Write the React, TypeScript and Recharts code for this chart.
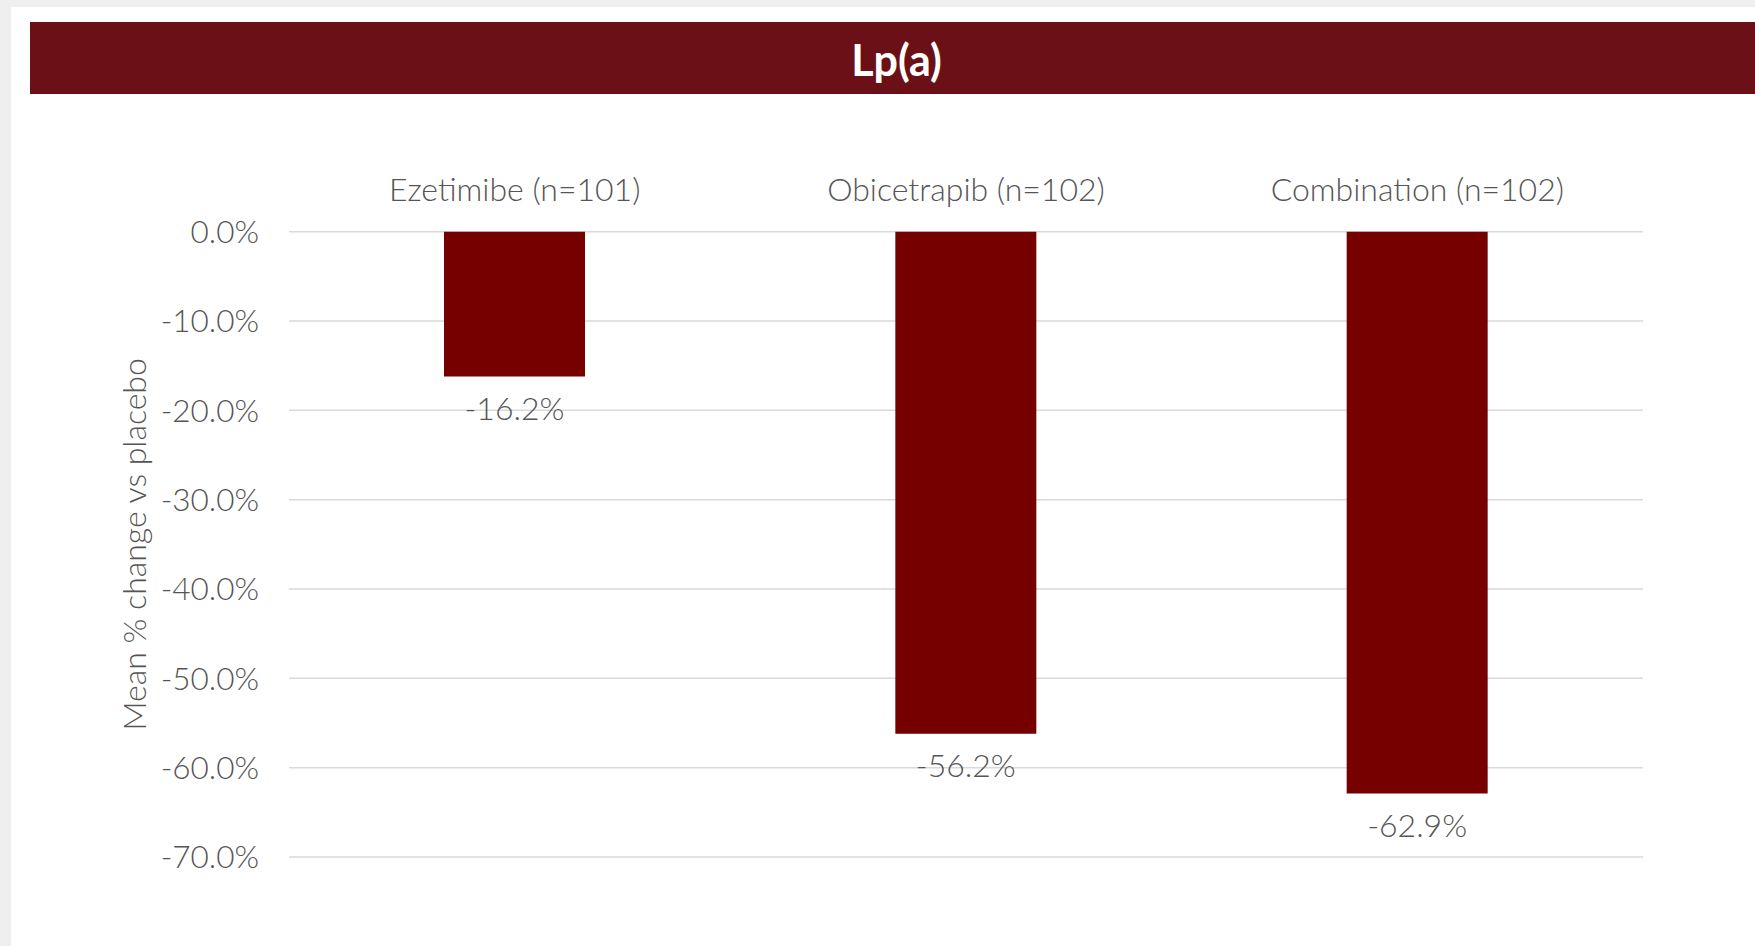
import { BarChart, Bar, XAxis, YAxis, CartesianGrid, LabelList } from 'recharts'

const categories = ['Ezetimibe (n=101)', 'Obicetrapib (n=102)', 'Combination (n=102)']
const meanChange = [-16.2, -56.2, -62.9]
const yTicks = [0, -10, -20, -30, -40, -50, -60, -70]

const title = 'Lp(a)'
const yAxisTitle = 'Mean % change vs placebo'

const data = categories.map((name, i) => ({ name, value: meanChange[i] }))

const FONT = 'Lato, "Open Sans", sans-serif'
const TEXT_GRAY = '#555555'

const pct = (v: number) => `${v.toFixed(1)}%`

// value label drawn under the end of each (negative) bar
const ValueLabel = (props: any) => {
  const { x, y, width, height, value } = props
  const bottom = Math.max(y, y + height)
  return (
    <text
      x={x + width / 2}
      y={bottom + 31}
      textAnchor="middle"
      dominantBaseline="central"
      fill={TEXT_GRAY}
      fontSize={32}
      fontWeight={300}
      fontFamily={FONT}
    >
      {pct(value)}
    </text>
  )
}

const AxisTitle = (props: any) => {
  const { viewBox } = props
  const cx = viewBox.x + 45
  const cy = viewBox.y + viewBox.height / 2
  return (
    <text
      x={cx}
      y={cy}
      transform={`rotate(-90, ${cx}, ${cy})`}
      textAnchor="middle"
      dominantBaseline="central"
      fill={TEXT_GRAY}
      fontSize={32}
      fontWeight={300}
      fontFamily={FONT}
    >
      {yAxisTitle}
    </text>
  )
}

export default function App() {
  return (
    <div style={{ position: 'absolute', left: 0, top: 0, width: 1755, height: 946, background: '#efefef', overflow: 'hidden' }}>
      {/* white card */}
      <div style={{ position: 'absolute', left: 11, top: 7, right: 0, bottom: 0, background: '#fff' }} />
      {/* title banner */}
      <div
        style={{
          position: 'absolute',
          left: 30,
          top: 22,
          width: 1725,
          height: 72,
          background: '#6a1016',
          color: '#fff',
          fontFamily: FONT,
          fontWeight: 700,
          fontSize: 43,
          display: 'flex',
          alignItems: 'center',
          justifyContent: 'center',
        }}
      >
        <span style={{ marginLeft: 8, marginTop: 2 }}>{title}</span>
      </div>
      <div style={{ position: 'absolute', left: 0, top: 0 }}>
        <BarChart
          width={1755}
          height={946}
          data={data}
          margin={{ top: 171.7, right: 112, bottom: 89, left: 89 }}
        >
          <CartesianGrid vertical={false} stroke="#d9d9d9" strokeWidth={1.5} />
          <XAxis
            dataKey="name"
            orientation="top"
            height={60}
            axisLine={false}
            tickLine={false}
            tickSize={0}
            tickMargin={31}
            interval={0}
            tick={{ fill: TEXT_GRAY, fontSize: 32, fontWeight: 300, fontFamily: FONT }}
          />
          <YAxis
            type="number"
            domain={[-70, 0]}
            ticks={yTicks}
            width={200}
            axisLine={false}
            tickLine={false}
            tickSize={0}
            tickMargin={30}
            tickFormatter={pct}
            tick={{ fill: TEXT_GRAY, fontSize: 31.5, fontWeight: 300, fontFamily: FONT }}
            label={<AxisTitle />}
          />
          <Bar dataKey="value" fill="#760000" barSize={141} isAnimationActive={false}>
            <LabelList dataKey="value" content={<ValueLabel />} />
          </Bar>
        </BarChart>
      </div>
    </div>
  )
}
